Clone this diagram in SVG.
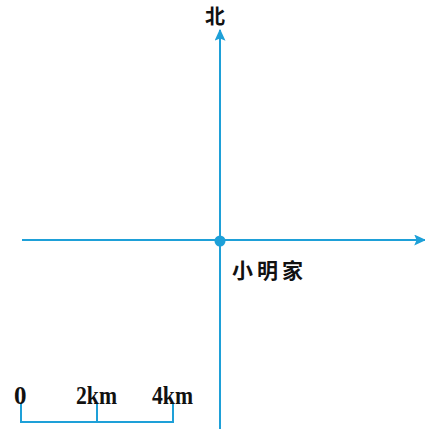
<svg xmlns="http://www.w3.org/2000/svg" width="425" height="429" viewBox="0 0 425 429">
<defs>
<style>
.ax{stroke:#1ea0d8;stroke-width:2;fill:none}
.t{font-family:"Noto Sans CJK SC",sans-serif;fill:#111}
.n{font-family:"Liberation Serif",serif;fill:#111;font-size:25px;font-weight:bold}
</style>
<marker id="ah" viewBox="0 0 10 10" refX="9" refY="5" markerWidth="12" markerHeight="11" orient="auto" markerUnits="userSpaceOnUse" preserveAspectRatio="none">
<path d="M0,0 L10,5 L0,10 L2,5 z" fill="#1ea0d8"/>
</marker>
</defs>
<g id="connectors">
<line class="ax" x1="220" y1="429" x2="220" y2="30" marker-end="url(#ah)"/>
<line class="ax" x1="22" y1="240" x2="425" y2="240" marker-end="url(#ah)"/>
</g>
<g id="north"><text class="t" x="215" y="24" font-size="20" text-anchor="middle" font-weight="bold">北</text></g>
<g id="home">
<circle cx="220" cy="241" r="5.5" fill="#1ea0d8"/>
<text class="t" x="232" y="278" font-size="21" letter-spacing="4" font-weight="bold">小明家</text>
</g>
<g id="scale">
<path class="ax" d="M21,404 V422 H173 V404 M97,404 V422"/>
<text class="n" x="14" y="404">0</text>
<text class="n" x="76" y="404" textLength="41" lengthAdjust="spacingAndGlyphs">2km</text>
<text class="n" x="152" y="404" textLength="41" lengthAdjust="spacingAndGlyphs">4km</text>
</g>
</svg>
